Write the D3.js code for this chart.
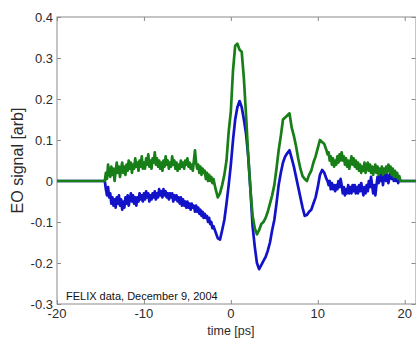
<!DOCTYPE html>
<html>
<head>
<meta charset="utf-8">
<script src="https://cdn.jsdelivr.net/npm/d3@7"></script>
<style>
  html, body { margin: 0; padding: 0; background: #fff; }
  svg { display: block; }
  text { font-family: "Liberation Sans", Arial, Helvetica, sans-serif; }
</style>
</head>
<body>
<svg id="chart" width="416" height="338"></svg>
<script>
// Sample times [ps]: finer sampling where the traces are noisy
const times = [
  -20,
  -14.5, -14.375, -14.25, -14.125, -14, -13.875, -13.75, -13.625,
  -13.5, -13.375, -13.25, -13.125, -13, -12.875, -12.75, -12.625,
  -12.5, -12.375, -12.25, -12.125, -12, -11.875, -11.75, -11.625,
  -11.5, -11.375, -11.25, -11.125, -11, -10.875, -10.75, -10.625,
  -10.5, -10.375, -10.25, -10.125, -10, -9.875, -9.75, -9.625,
  -9.5, -9.375, -9.25, -9.125, -9, -8.875, -8.75, -8.625,
  -8.5, -8.375, -8.25, -8.125, -8, -7.875, -7.75, -7.625,
  -7.5, -7.375, -7.25, -7.125, -7, -6.875, -6.75, -6.625,
  -6.5, -6.375, -6.25, -6.125, -6, -5.875, -5.75, -5.625,
  -5.5, -5.375, -5.25, -5.125, -5, -4.875, -4.75, -4.625,
  -4.5, -4.375, -4.25, -4.125, -4, -3.875, -3.75, -3.625,
  -3.5, -3.375, -3.25, -3.125, -3, -2.875, -2.75, -2.625,
  -2.5, -2.375, -2.25, -2.125, -2,
  -1.75, -1.5, -1.25, -1, -0.75, -0.5, -0.25, 0,
  0.25, 0.5, 0.75, 1, 1.25, 1.5, 1.75, 2,
  2.25, 2.5, 2.75, 3, 3.25, 3.5, 3.75, 4,
  4.25, 4.5, 4.75, 5, 5.25, 5.5, 5.75, 6,
  6.25, 6.5, 6.75, 7, 7.25, 7.5, 7.75, 8,
  8.25, 8.5, 8.75, 9, 9.25, 9.5, 9.75, 10,
  10.25, 10.5, 10.75,
  11, 11.125, 11.25, 11.375, 11.5, 11.625, 11.75, 11.875,
  12, 12.125, 12.25, 12.375, 12.5, 12.625, 12.75, 12.875,
  13, 13.125, 13.25, 13.375, 13.5, 13.625, 13.75, 13.875,
  14, 14.125, 14.25, 14.375, 14.5, 14.625, 14.75, 14.875,
  15, 15.125, 15.25, 15.375, 15.5, 15.625, 15.75, 15.875,
  16, 16.125, 16.25, 16.375, 16.5, 16.625, 16.75, 16.875,
  17, 17.125, 17.25, 17.375, 17.5, 17.625, 17.75, 17.875,
  18, 18.125, 18.25, 18.375, 18.5, 18.625, 18.75, 18.875,
  19, 19.125, 19.25, 19.375, 19.5,
  21.3
];

// EO signal, green trace [arb]
const greenSignal = [
  0,
  0, 0.02, 0.005, 0.04, 0.02, 0.01, 0.035, 0.015,
  0.03, 0.0, 0.025, 0.045, 0.02, 0.035, 0.01, 0.03,
  0.045, 0.02, 0.035, 0.015, 0.04, 0.025, 0.05, 0.03,
  0.045, 0.02, 0.04, 0.03, 0.055, 0.035, 0.045, 0.025,
  0.05, 0.035, 0.06, 0.03, 0.045, 0.03, 0.055, 0.04,
  0.065, 0.035, 0.05, 0.03, 0.055, 0.045, 0.07, 0.04,
  0.055, 0.035, 0.05, 0.03, 0.045, 0.025, 0.05, 0.035,
  0.06, 0.04, 0.05, 0.03, 0.045, 0.035, 0.06, 0.04,
  0.05, 0.03, 0.045, 0.025, 0.04, 0.03, 0.05, 0.035,
  0.045, 0.03, 0.05, 0.04, 0.055, 0.035, 0.045, 0.03,
  0.04, 0.025, 0.05, 0.075, 0.045, 0.03, 0.04, 0.02,
  0.035, 0.015, 0.03, 0.02, 0.025, 0.005, 0.02, 0.0,
  0.015, 0.0, 0.01, -0.005, 0.005,
  -0.02, -0.04, -0.03, -0.01, 0.015, 0.05, 0.12, 0.17,
  0.27, 0.33, 0.335, 0.32, 0.315, 0.25, 0.16, 0.06,
  -0.02, -0.085, -0.115, -0.13, -0.12, -0.105, -0.1, -0.09,
  -0.075, -0.055, -0.035, -0.01, 0.03, 0.075, 0.11, 0.15,
  0.155, 0.16, 0.165, 0.13, 0.11, 0.085, 0.055, 0.03,
  0.012, 0.005, 0.0, 0.015, 0.025, 0.045, 0.06, 0.08,
  0.1, 0.095, 0.09,
  0.075, 0.065, 0.07, 0.05, 0.06, 0.04, 0.055, 0.035,
  0.05, 0.04, 0.06, 0.045, 0.065, 0.05, 0.07, 0.05,
  0.06, 0.04, 0.055, 0.035, 0.05, 0.03, 0.045, 0.06,
  0.04, 0.055, 0.035, 0.05, 0.03, 0.045, 0.025, 0.04,
  0.02, 0.035, 0.025, 0.045, 0.02, 0.035, 0.045, 0.025,
  0.04, 0.02, 0.035, 0.015, 0.03, 0.04, 0.02, 0.035,
  0.015, 0.03, 0.02, 0.035, 0.015, 0.03, 0.02, 0.035,
  0.02, 0.04, 0.025, 0.035, 0.015, 0.03, 0.01, 0.025,
  0.01, 0.02, 0.005, 0.012, 0.0,
  0
];

// EO signal, blue trace [arb]
const blueSignal = [
  0,
  0, -0.02, -0.035, -0.015, -0.04, -0.03, -0.055, -0.04,
  -0.06, -0.045, -0.065, -0.04, -0.055, -0.035, -0.06, -0.045,
  -0.07, -0.05, -0.065, -0.04, -0.055, -0.035, -0.06, -0.045,
  -0.03, -0.05, -0.035, -0.055, -0.04, -0.06, -0.04, -0.05,
  -0.03, -0.045, -0.035, -0.05, -0.03, -0.045, -0.025, -0.04,
  -0.03, -0.05, -0.035, -0.045, -0.03, -0.04, -0.025, -0.045,
  -0.03, -0.04, -0.02, -0.035, -0.025, -0.04, -0.02, -0.035,
  -0.025, -0.04, -0.03, -0.045, -0.03, -0.04, -0.03, -0.05,
  -0.035, -0.045, -0.035, -0.05, -0.04, -0.055, -0.04, -0.06,
  -0.045, -0.06, -0.05, -0.065, -0.05, -0.065, -0.055, -0.07,
  -0.055, -0.065, -0.06, -0.075, -0.06, -0.075, -0.065, -0.08,
  -0.07, -0.085, -0.075, -0.09, -0.08, -0.09, -0.085, -0.1,
  -0.09, -0.105, -0.1, -0.115, -0.11,
  -0.125, -0.14, -0.143, -0.12, -0.095, -0.055, -0.01, 0.04,
  0.1, 0.15, 0.18, 0.195, 0.18, 0.15, 0.115, 0.06,
  -0.02, -0.11, -0.16, -0.2, -0.215, -0.205, -0.195, -0.185,
  -0.17, -0.15, -0.12, -0.095, -0.055, -0.01, 0.02, 0.045,
  0.06, 0.068, 0.075, 0.055, 0.035, 0.01, -0.015, -0.04,
  -0.065, -0.085, -0.083, -0.075, -0.07, -0.055, -0.04, -0.015,
  0.015, 0.027, 0.02,
  0.005, 0.0, -0.01, 0.0, -0.02, -0.005, -0.02, -0.01,
  -0.025, -0.01, -0.02, 0.0, -0.015, 0.005, -0.01, -0.03,
  -0.015, -0.035, -0.02, -0.03, -0.01, -0.03, -0.015, -0.03,
  -0.01, -0.025, -0.01, -0.03, -0.015, -0.03, -0.01, -0.025,
  -0.005, -0.02, -0.035, -0.015, -0.03, -0.01, -0.025, 0.0,
  -0.015, 0.01, -0.01, -0.03, -0.01, -0.035, -0.01, 0.01,
  -0.005, 0.015, 0.0, 0.02, -0.01, 0.01, 0.02, 0.0,
  0.015, -0.005, 0.01, 0.02, 0.005, 0.015, 0.0, 0.012,
  0.0, 0.01, -0.005, 0.008, 0.0,
  0
];

const xTicks = [-20, -10, 0, 10, 20];
const yTicks = [-0.3, -0.2, -0.1, 0, 0.1, 0.2, 0.3, 0.4];

const svg = d3.select("#chart");

const plotLeft = 57, plotRight = 416, plotTop = 17, plotBottom = 304;
const x = d3.scaleLinear().domain([-20, 21.3]).range([plotLeft, plotRight]);
const y = d3.scaleLinear().domain([-0.3, 0.4]).range([plotBottom, plotTop]);

const axisColor = "#8a8a8a";
const labelColor = "#2b2b2b";

// frame
svg.append("rect")
  .attr("x", plotLeft).attr("y", plotTop)
  .attr("width", plotRight - plotLeft).attr("height", plotBottom - plotTop)
  .attr("fill", "none").attr("stroke", axisColor).attr("stroke-width", 1);

// inward tick marks on all four sides
const xAxisB = d3.axisBottom(x).tickValues(xTicks).tickSize(-4).tickFormat("");
const xAxisT = d3.axisTop(x).tickValues(xTicks).tickSize(-4).tickFormat("");
const yAxisL = d3.axisLeft(y).tickValues(yTicks).tickSize(-4).tickFormat("");
const yAxisR = d3.axisRight(y).tickValues(yTicks).tickSize(-4).tickFormat("");

function styleAxis(g) {
  g.select(".domain").remove();
  g.selectAll(".tick line").attr("stroke", axisColor);
}
svg.append("g").attr("transform", `translate(0,${plotBottom})`).call(xAxisB).call(styleAxis);
svg.append("g").attr("transform", `translate(0,${plotTop})`).call(xAxisT).call(styleAxis);
svg.append("g").attr("transform", `translate(${plotLeft},0)`).call(yAxisL).call(styleAxis);
svg.append("g").attr("transform", `translate(${plotRight - 0.5},0)`).call(yAxisR).call(styleAxis);

// tick labels
svg.append("g").selectAll("text").data(xTicks).join("text")
  .attr("x", d => x(d))
  .attr("y", plotBottom + 14)
  .attr("text-anchor", "middle")
  .attr("font-size", 13)
  .attr("fill", labelColor)
  .text(d => d);

svg.append("g").selectAll("text").data(yTicks).join("text")
  .attr("x", plotLeft - 4)
  .attr("y", d => y(d))
  .attr("dy", "0.36em")
  .attr("text-anchor", "end")
  .attr("font-size", 13)
  .attr("fill", labelColor)
  .text(d => Math.round(d * 10) / 10);

// traces
const line = d3.line()
  .x((d, i) => x(times[i]))
  .y(d => y(d));

svg.append("path")
  .datum(blueSignal)
  .attr("d", line)
  .attr("fill", "none")
  .attr("stroke", "#1212c8")
  .attr("stroke-width", 2.7)
  .attr("stroke-linejoin", "round");

svg.append("path")
  .datum(greenSignal)
  .attr("d", line)
  .attr("fill", "none")
  .attr("stroke", "#187e18")
  .attr("stroke-width", 2.7)
  .attr("stroke-linejoin", "round");

// annotation
svg.append("text")
  .attr("x", 66).attr("y", 300)
  .attr("font-size", 11)
  .attr("fill", "#111")
  .text("FELIX data, December 9, 2004");

// axis labels
svg.append("text")
  .attr("x", (x(-20) + x(20)) / 2)
  .attr("y", 335)
  .attr("text-anchor", "middle")
  .attr("font-size", 12.5)
  .attr("fill", labelColor)
  .text("time [ps]");

svg.append("text")
  .attr("transform", `translate(23,${(plotTop + plotBottom) / 2}) rotate(-90)`)
  .attr("text-anchor", "middle")
  .attr("font-size", 16)
  .attr("fill", labelColor)
  .text("EO signal [arb]");
</script>
</body>
</html>
